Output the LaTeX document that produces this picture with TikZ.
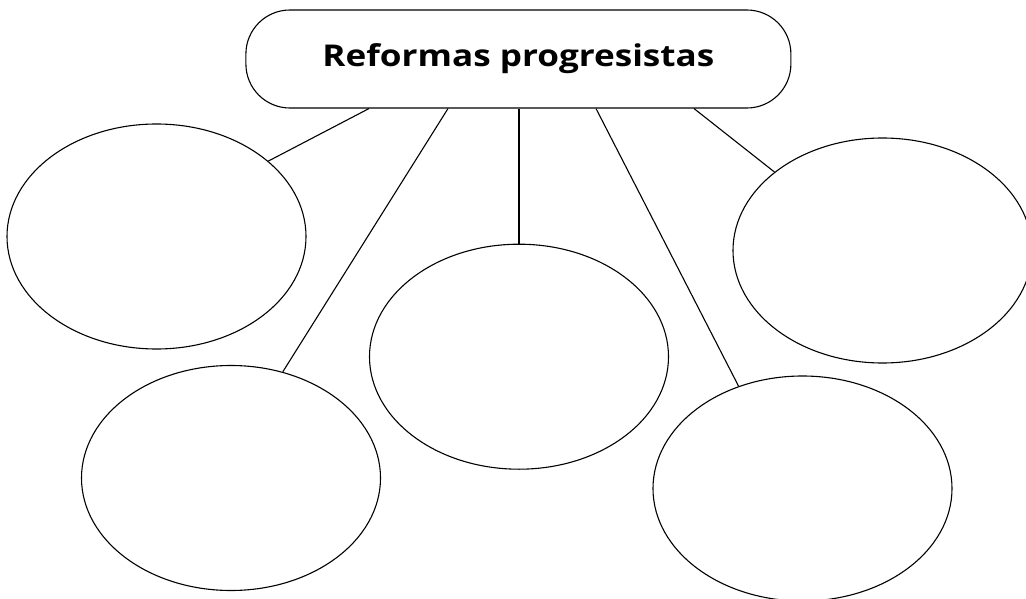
\documentclass[tikz,border=0pt]{standalone}
\usepackage{fontspec}
\setmainfont{Open Sans}
\newfontfamily\titlefont[FakeStretch=1.17]{Open Sans Bold}
\usetikzlibrary{shapes.geometric}
\begin{document}
\begin{tikzpicture}[x=1pt,y=-1pt,
  blob/.style={draw=black,line width=1.1pt,ellipse,minimum width=299pt,minimum height=225pt,inner sep=0pt},
  titlebox/.style={draw=black,line width=1.1pt,rectangle,rounded corners=44pt,minimum width=545pt,minimum height=98pt,inner sep=0pt,font=\titlefont\fontsize{30}{34}\selectfont},
  link/.style={draw=black,line width=1.1pt}]
\useasboundingbox[fill=white] (0,0) rectangle (1026,599);
\node[titlebox] (t) at (518.4,59) {Reformas progresistas};
\node[blob] (e1) at (156.5,236.5) {};
\node[blob] (e2) at (231,478) {};
\node[blob] (e3) at (519,356.7) {};
\node[blob] (e4) at (882.5,250.5) {};
\node[blob] (e5) at (802.5,488.5) {};
\coordinate (x1) at (369,0);
\coordinate (x2) at (448,0);
\coordinate (x3) at (519,0);
\coordinate (x4) at (596,0);
\coordinate (x5) at (694,0);
\draw[link] (t.south -| x1) -- (e1.34);
\draw[link] (t.south -| x2) -- (e2.64);
\draw[link] (t.south -| x3) -- (e3.90);
\draw[link] (t.south -| x4) -- (e5.122);
\draw[link] (t.south -| x5) -- (e4.144);
\end{tikzpicture}
\end{document}
